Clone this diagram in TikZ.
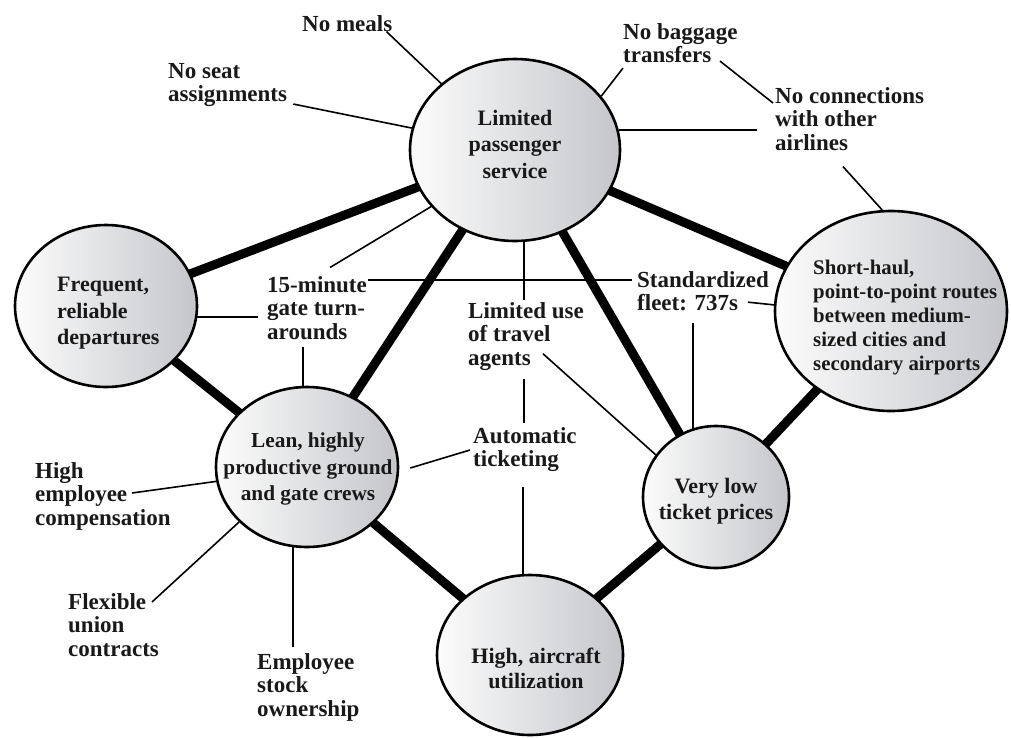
\documentclass[tikz,border=0pt]{standalone}
\usepackage{fontspec}
\setmainfont{Liberation Serif}
\usetikzlibrary{shapes.geometric,calc}
\pgfdeclarelayer{background}
\pgfsetlayers{background,main}
\definecolor{ellL}{RGB}{252,252,252}
\definecolor{ellM}{RGB}{234,235,237}
\definecolor{ellR}{RGB}{196,198,202}
\definecolor{ink}{RGB}{25,25,25}

\begin{document}
\begin{tikzpicture}[x=1pt,y=-1pt,
  hubnode/.style={ellipse, draw=black, line width=2.6pt, left color=ellL, middle color=ellM, right color=ellR, inner sep=0pt},
  hubtext/.style={inner sep=0pt, text=ink, font=\fontsize{22}{26.5}\selectfont\bfseries},
  labeltext/.style={inner sep=0pt, anchor=north west, align=left, text=ink, font=\fontsize{23}{23.5}\selectfont\bfseries},
  bond/.style={line width=9pt},
  leader/.style={line width=1.6pt}]

\useasboundingbox (0,0) rectangle (1011,737);

% the six activity hubs
\node[hubnode, minimum width=210pt, minimum height=182pt] (LPS) at (515,150) {};
\node[hubtext, align=center, anchor=north] (LPSt) at (515,110) {Limited\\passenger\\service};

\node[hubnode, minimum width=182pt, minimum height=162pt] (FRD) at (106,306) {};
\node[hubtext, align=left, anchor=north west] (FRDt) at (57,277) {Frequent,\\reliable\\departures};

\node[hubnode, minimum width=182pt, minimum height=160pt] (LEAN) at (307,467) {};
\node[hubtext, align=center, anchor=north, font=\fontsize{21.3}{26.5}\selectfont\bfseries] (LEANt) at (308,433) {Lean, highly\\productive ground\\and gate crews};

\node[hubnode, minimum width=232pt, minimum height=200pt] (SH) at (891,311) {};
\node[hubtext, align=left, anchor=north west, font=\fontsize{20.8}{24}\selectfont\bfseries] (SHt) at (813,260)
  {Short-haul,\\point-to-point routes\\between medium-\\sized cities and\\secondary airports};

\node[hubnode, minimum width=146pt, minimum height=142pt] (VLT) at (716,497) {};
\node[hubtext, align=center, anchor=north] (VLTt) at (716,478) {Very low\\ticket prices};

\node[hubnode, minimum width=186pt, minimum height=160pt] (HAU) at (530,655) {};
\node[hubtext, align=center, anchor=north, font=\fontsize{22}{24.5}\selectfont\bfseries] (HAUt) at (536,648) {High, aircraft\\utilization};

% supporting activities
\node[labeltext] (meals)  at (302,15)  {No meals};
\node[labeltext] (seat)   at (168,63)  {No seat\\assignments};
\node[labeltext] (bag)    at (623,23)  {No baggage\\transfers};
\node[labeltext] (conn)   at (775,87)  {No connections\\with other\\airlines};
\node[labeltext] (turn)   at (267,276) {15-minute\\gate turn-\\arounds};
\node[labeltext] (fleet)  at (637,271) {Standardized\\fleet: 737s};
\node[labeltext] (agents) at (468,302) {Limited use\\of travel\\agents};
\node[labeltext] (ticket) at (473,427) {Automatic\\ticketing};
\node[labeltext] (pay)    at (35,462)  {High\\employee\\compensation};
\node[labeltext] (union)  at (68,593)  {Flexible\\union\\contracts};
\node[labeltext] (stock)  at (257,653) {Employee\\stock\\ownership};

\begin{pgfonlayer}{background}
  % strong links between hubs
  \draw[bond] (LPS.center) -- (FRD.center);
  \draw[bond] (LPS.center) -- (LEAN.center);
  \draw[bond] (LPS.center) -- (VLT.center);
  \draw[bond] (LPS.center) -- (SH.center);
  \draw[bond] (FRD.center) -- (LEAN.center);
  \draw[bond] (LEAN.center) -- (HAU.center);
  \draw[bond] (HAU.center) -- (VLT.center);
  \draw[bond] (VLT.center) -- (SH.center);

  % leader lines to supporting activities
  \draw[leader] ($(meals.south east)+(-6pt,0)$) -- (LPS.138);
  \draw[leader] ($(seat.south east)+(6pt,3pt)$) -- (LPS.168);
  \draw[leader] (LPS.32) -- ($(bag.south west)+(0,-5pt)$);
  \draw[leader] ($(bag.south west)+(97pt,2pt)$) -- ($(conn.north west)+(-2pt,-16pt)$);
  \draw[leader] (LPS.11) -- ($(conn.west |- LPS.11)+(-18pt,0)$);
  \draw[leader] ($(conn.south west)+(68pt,-16pt)$) -- (SH.95);

  \draw[leader] ($(turn.north east)+(1pt,-4pt)$) -- ($(fleet.north west)+(-5pt,-9pt)$);
  \draw[leader] ($(turn.north west)+(63pt,8.5pt)$) -- (LPS.214);
  \draw[leader] (FRD.353) -- ($(turn.west |- FRD.353)+(-9pt,0)$);
  \coordinate (t1) at ($(turn.south west)+(36pt,-7pt)$);
  \draw[leader] (t1) -- (t1 |- LEAN.center);

  \draw[leader] ($(fleet.south west)+(111pt,9pt)$) -- (SH.177);
  \coordinate (f1) at ($(fleet.south west)+(56pt,-12pt)$);
  \draw[leader] (f1) -- (f1 |- VLT.center);

  \coordinate (a1) at ($(agents.north west)+(56pt,2pt)$);
  \draw[leader] (a1) -- (a1 |- LPS.center);
  \coordinate (a2) at ($(agents.south west)+(56pt,-9pt)$);
  \draw[leader] (a2) -- ($(a2 |- ticket.north)+(0,4pt)$);
  \draw[leader] ($(agents.south west)+(75pt,16.7pt)$) -- (VLT.145);

  \draw[leader] ($(LEAN.east)+(11pt,-1pt)$) -- ($(ticket.north west)+(-3pt,-23pt)$);
  \coordinate (k1) at ($(ticket.south west)+(50pt,-15pt)$);
  \draw[leader] (k1) -- (k1 |- HAU.center);

  \draw[leader] ($(pay.north west)+(97pt,-31pt)$) -- (LEAN.189);
  \draw[leader] ($(union.north west)+(84pt,-9pt)$) -- (LEAN.219);
  \coordinate (s1) at ($(stock.north west)+(36pt,6pt)$);
  \draw[leader] (s1) -- (s1 |- LEAN.center);
\end{pgfonlayer}
\end{tikzpicture}
\end{document}
